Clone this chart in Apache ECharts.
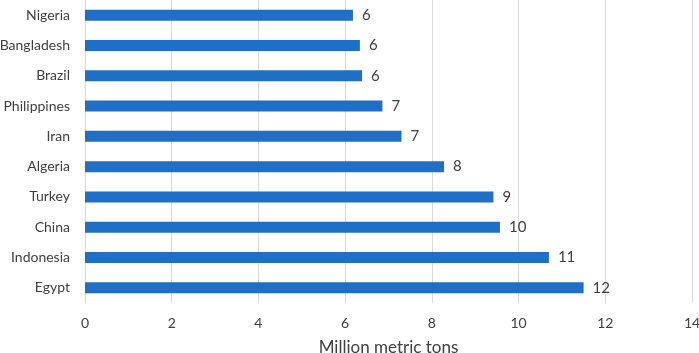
<!DOCTYPE html>
<html>
<head>
<meta charset="utf-8">
<script src="https://cdn.jsdelivr.net/npm/echarts@6/dist/echarts.min.js"></script>
<style>
	html,body{margin:0;padding:0;background:#fff;}
	#chart{width:699px;height:353px;}
</style>
</head>
<body>
<div id="chart"></div>
<script>
	// bottom to top, as drawn on the category axis
	const countries = ['Egypt', 'Indonesia', 'China', 'Turkey', 'Algeria', 'Iran', 'Philippines', 'Brazil', 'Bangladesh', 'Nigeria'];
	const tons = [11.5, 10.7, 9.57, 9.42, 8.28, 7.3, 6.86, 6.39, 6.34, 6.18];
	const xTicks = [0, 2, 4, 6, 8, 10, 12, 14];

	const fontName = 'Lato, "Open Sans", sans-serif';
	const textColor = '#404040';

	var myChart = echarts.init(document.getElementById('chart'));
	var option = {
		animation: false,
		grid: {
			left: 85,
			right: 7,
			top: 0,
			bottom: 50,
			containLabel: false,
			outerBoundsMode: 'none'
		},
		xAxis: {
			type: 'value',
			min: xTicks[0],
			max: xTicks[xTicks.length - 1],
			interval: 2,
			name: 'Million metric tons',
			nameLocation: 'middle',
			nameGap: 36,
			nameTextStyle: {
				color: textColor,
				fontSize: 17,
				fontFamily: fontName
			},
			axisLine: {show: false},
			axisTick: {show: false},
			axisLabel: {
				color: textColor,
				fontSize: 14,
				fontFamily: fontName,
				margin: 13
			},
			splitLine: {
				lineStyle: {color: '#d9d9d9', width: 1}
			}
		},
		yAxis: {
			type: 'category',
			data: countries,
			axisLine: {show: false},
			axisTick: {show: false},
			axisLabel: {
				color: textColor,
				fontSize: 14,
				fontFamily: fontName,
				margin: 15
			}
		},
		series: [{
			type: 'bar',
			data: tons,
			barWidth: 11,
			itemStyle: {color: '#1f6fc6'},
			label: {
				show: true,
				position: 'right',
				distance: 9,
				color: textColor,
				fontSize: 15,
				fontFamily: fontName,
				formatter: p => Math.round(p.value)
			}
		}]
	};
	myChart.setOption(option);
</script>
</body>
</html>
